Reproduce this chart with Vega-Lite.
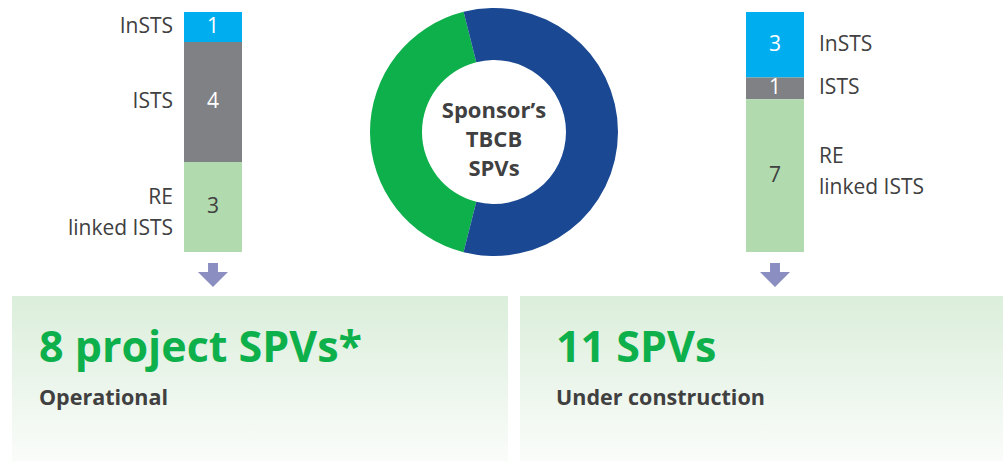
{
  "$schema": "https://vega.github.io/schema/vega-lite/v6.json",
  "width": 1003,
  "height": 461,
  "autosize": {"type": "fit", "contains": "padding"},
  "padding": 0,
  "background": "white",
  "config": {"view": {"stroke": null}, "font": "Open Sans"},
  "resolve": {"scale": {"x": "independent", "y": "independent", "color": "independent"}},
  "layer": [
    {
      "data": {"values": [
        {"status": "Operational", "headline": "8 project SPVs*", "subtitle": "Operational"},
        {"status": "Under construction", "headline": "11 SPVs", "subtitle": "Under construction"}
      ]},
      "encoding": {
        "x": {"field": "status", "type": "nominal", "axis": null,
              "scale": {"type": "band", "domain": ["Operational", "Under construction"], "range": [12, 1016], "paddingInner": 0.0236, "paddingOuter": 0}},
        "y": {"datum": 0, "type": "quantitative", "axis": null, "scale": {"domain": [0, 1], "range": [296, 461]}}
      },
      "layer": [
        {
          "mark": {"type": "rect", "clip": true,
                   "color": {"gradient": "linear", "x1": 0, "y1": 0, "x2": 0, "y2": 1,
                             "stops": [{"offset": 0, "color": "#dbeedb"}, {"offset": 1, "color": "#fafcfa"}]}},
          "encoding": {"y2": {"datum": 1}}
        },
        {
          "mark": {"type": "text", "align": "left", "baseline": "alphabetic", "fontWeight": "bold", "fontSize": 43, "color": "#0db04b",
                   "dx": {"expr": "datum.status === 'Operational' ? 27 : 36"}, "dy": 66},
          "encoding": {"x": {"field": "status", "type": "nominal", "bandPosition": 0}, "text": {"field": "headline"}}
        },
        {
          "mark": {"type": "text", "align": "left", "baseline": "alphabetic", "fontWeight": "bold", "fontSize": 21.5, "color": "#404041",
                   "dx": {"expr": "datum.status === 'Operational' ? 27 : 36"}, "dy": 109},
          "encoding": {"x": {"field": "status", "type": "nominal", "bandPosition": 0}, "text": {"field": "subtitle"}}
        }
      ]
    },
    {
      "resolve": {"scale": {"color": "independent"}},
      "layer": [
        {
          "mark": {"type": "rule", "color": "#9a9a9a", "strokeDash": [2, 2], "strokeWidth": 1},
          "encoding": {
            "x": {"datum": "Operational", "type": "nominal", "bandPosition": 1, "axis": null,
                  "scale": {"type": "band", "domain": ["Operational", "All", "Under construction"], "range": [184, 804], "paddingInner": 0.7936, "paddingOuter": 0}},
            "x2": {"datum": "Under construction"},
            "y": {"datum": 0, "type": "quantitative", "axis": null, "scale": {"domain": [0, 1], "range": [12, 252]}}
          }
        },
        {
          "mark": {"type": "rule", "color": "#9a9a9a", "strokeDash": [2, 2], "strokeWidth": 1},
          "encoding": {
            "x": {"datum": "Operational", "type": "nominal", "bandPosition": 1},
            "x2": {"datum": "Under construction"},
            "y": {"datum": 1, "type": "quantitative"}
          }
        },
        {
          "data": {"values": [
            {"status": "Operational", "count": 8},
            {"status": "Under construction", "count": 11}
          ]},
          "mark": {"type": "arc", "innerRadius": 72, "outerRadius": 124},
          "encoding": {
            "x": {"datum": "All", "type": "nominal", "bandPosition": 0.5},
            "y": {"datum": 0.5, "type": "quantitative"},
            "theta": {"field": "count", "type": "quantitative", "stack": true, "scale": {"range": [3.3897, 9.6729]}},
            "color": {"field": "status", "type": "nominal", "legend": null,
                      "scale": {"domain": ["Operational", "Under construction"], "range": ["#0db04b", "#1b4893"]}}
          }
        },
        {
          "data": {"values": [{"label": "Sponsor’s\nTBCB\nSPVs"}]},
          "mark": {"type": "text", "fontWeight": "bold", "fontSize": 22, "lineHeight": 29, "lineBreak": "\n", "color": "#404041", "align": "center", "baseline": "middle", "dy": -21},
          "encoding": {
            "x": {"datum": "All", "type": "nominal", "bandPosition": 0.5},
            "y": {"datum": 0.5, "type": "quantitative"},
            "text": {"field": "label"}
          }
        },
        {
          "data": {"values": [
            {"status": "Operational", "category": "InSTS", "label": "InSTS", "count": 1},
            {"status": "Operational", "category": "ISTS", "label": "ISTS", "count": 4},
            {"status": "Operational", "category": "RE linked ISTS", "label": "RE\nlinked ISTS", "count": 3},
            {"status": "Under construction", "category": "InSTS", "label": "InSTS", "count": 3},
            {"status": "Under construction", "category": "ISTS", "label": "ISTS", "count": 1},
            {"status": "Under construction", "category": "RE linked ISTS", "label": "RE\nlinked ISTS", "count": 7}
          ]},
          "transform": [{"window": [{"op": "row_number", "as": "seq"}], "groupby": ["status"]}],
          "encoding": {
            "x": {"field": "status", "type": "nominal"},
            "y": {"field": "count", "type": "quantitative", "stack": "normalize"},
            "detail": {"field": "category"},
            "order": {"field": "seq", "type": "quantitative", "sort": "ascending"}
          },
          "layer": [
            {
              "mark": {"type": "bar"},
              "encoding": {
                "color": {"field": "category", "type": "nominal", "legend": null,
                          "scale": {"domain": ["InSTS", "ISTS", "RE linked ISTS"], "range": ["#00aeef", "#808184", "#b1daae"]}}
              }
            },
            {
              "mark": {"type": "text", "fontSize": 21, "baseline": "middle", "align": "center"},
              "encoding": {
                "x": {"field": "status", "type": "nominal", "bandPosition": 0.5},
                "y": {"field": "count", "type": "quantitative", "stack": "normalize", "bandPosition": 0.5},
                "color": {"condition": {"test": "datum.category === 'RE linked ISTS'", "value": "#404041"}, "value": "#ffffff"},
                "text": {"field": "count"}
              }
            },
            {
              "transform": [{"filter": "datum.status === 'Operational'"}],
              "mark": {"type": "text", "fontSize": 21, "baseline": "middle", "align": "right", "lineBreak": "\n", "lineHeight": 31, "dx": -11, "color": "#404041",
                       "dy": {"expr": "indexof(datum.label, '\\n') >= 0 ? -9 : 0"}},
              "encoding": {
                "x": {"field": "status", "type": "nominal", "bandPosition": 0},
                "y": {"field": "count", "type": "quantitative", "stack": "normalize", "bandPosition": 0.5},
                "text": {"field": "label"}
              }
            },
            {
              "transform": [{"filter": "datum.status === 'Under construction'"}],
              "mark": {"type": "text", "fontSize": 21, "baseline": "middle", "align": "left", "lineBreak": "\n", "lineHeight": 31, "dx": 15, "color": "#404041",
                       "dy": {"expr": "indexof(datum.label, '\\n') >= 0 ? -19 : 0"}},
              "encoding": {
                "x": {"field": "status", "type": "nominal", "bandPosition": 1},
                "y": {"field": "count", "type": "quantitative", "stack": "normalize", "bandPosition": 0.5},
                "text": {"field": "label"}
              }
            }
          ]
        },
        {
          "data": {"values": [{"status": "Operational"}, {"status": "Under construction"}]},
          "mark": {"type": "point", "filled": true, "opacity": 1, "size": 900, "color": "#8a8ec0", "yOffset": 23,
                   "shape": "M-0.33,-0.8L0.33,-0.8L0.33,-0.2L1,-0.2L0,0.8L-1,-0.2L-0.33,-0.2Z"},
          "encoding": {
            "x": {"field": "status", "type": "nominal", "bandPosition": 0.5},
            "y": {"datum": 1, "type": "quantitative"}
          }
        }
      ]
    }
  ]
}
